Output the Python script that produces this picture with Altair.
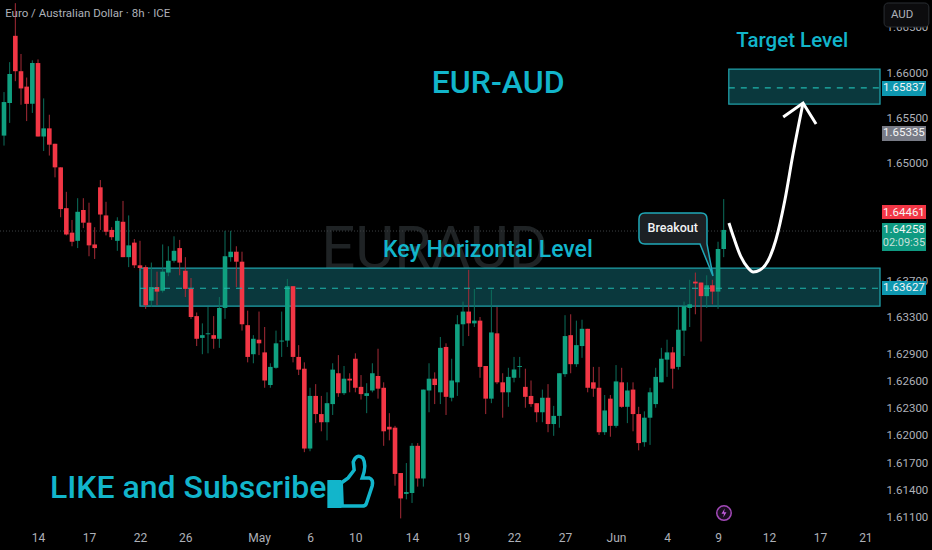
import altair as alt
import pandas as pd

opens = [1.6531,1.6567,1.6641,1.6602,1.6585,1.6566,1.6611,1.6530,1.6539,1.6522,1.6496,1.6451,1.6424,1.6415,1.6449,1.6435,1.6411,1.6474,1.6443,1.6427,
1.6415,1.6436,1.6397,1.6413,1.6388,1.6386,1.6349,1.6364,1.6360,1.6380,1.6393,1.6407,1.6382,1.6362,1.6332,1.6308,1.6312,1.6311,1.6307,1.6341,
1.6397,1.6403,1.6392,1.6322,1.6290,1.6306,1.6292,1.6256,1.6275,1.6304,1.6305,1.6365,1.6287,1.6274,1.6186,1.6244,1.6224,1.6215,1.6235,1.6269,
1.6247,1.6263,1.6285,1.6254,1.6244,1.6250,1.6266,1.6253,1.6210,1.6209,1.6159,1.6136,1.6137,1.6189,1.6153,1.6250,1.6263,1.6248,1.6298,1.6242,
1.6259,1.6323,1.6337,1.6324,1.6327,1.6277,1.6241,1.6313,1.6259,1.6248,1.6264,1.6276,1.6254,1.6244,1.6236,1.6226,1.6242,1.6213,1.6222,1.6268,
1.6311,1.6279,1.6299,1.6318,1.6259,1.6253,1.6204,1.6241,1.6211,1.6259,1.6232,1.6251,1.6224,1.6193,1.6220,1.6235,1.6259,1.6284,1.6292,1.6276,
1.6316,1.6341,1.6370,1.6369,1.6354,1.6366,1.6359,1.6406]
highs = [1.6579,1.6612,1.6677,1.6621,1.6595,1.6614,1.6615,1.6572,1.6554,1.6522,1.6496,1.6469,1.6438,1.6462,1.6462,1.6457,1.6430,1.6482,1.6458,1.6430,
1.6441,1.6459,1.6443,1.6417,1.6415,1.6388,1.6391,1.6381,1.6411,1.6409,1.6420,1.6416,1.6397,1.6374,1.6336,1.6324,1.6342,1.6332,1.6353,1.6426,
1.6426,1.6409,1.6403,1.6338,1.6311,1.6337,1.6320,1.6280,1.6316,1.6337,1.6373,1.6365,1.6300,1.6281,1.6253,1.6257,1.6244,1.6248,1.6280,1.6289,
1.6277,1.6269,1.6291,1.6267,1.6258,1.6280,1.6296,1.6259,1.6225,1.6211,1.6159,1.6170,1.6192,1.6192,1.6251,1.6280,1.6270,1.6309,1.6302,1.6285,
1.6333,1.6348,1.6383,1.6362,1.6331,1.6277,1.6361,1.6342,1.6269,1.6275,1.6287,1.6287,1.6274,1.6261,1.6236,1.6251,1.6257,1.6233,1.6269,1.6333,
1.6334,1.6327,1.6328,1.6318,1.6276,1.6276,1.6245,1.6245,1.6278,1.6275,1.6259,1.6259,1.6232,1.6227,1.6253,1.6275,1.6297,1.6306,1.6298,1.6342,
1.6348,1.6372,1.6380,1.6369,1.6377,1.6372,1.6414,1.6461]
lows = [1.6520,1.6545,1.6591,1.6565,1.6547,1.6556,1.6530,1.6514,1.6509,1.6485,1.6441,1.6421,1.6409,1.6407,1.6429,1.6398,1.6395,1.6427,1.6421,1.6416,
1.6404,1.6397,1.6386,1.6385,1.6382,1.6340,1.6342,1.6344,1.6358,1.6376,1.6391,1.6377,1.6353,1.6329,1.6299,1.6290,1.6291,1.6296,1.6297,1.6329,
1.6392,1.6364,1.6316,1.6281,1.6280,1.6289,1.6253,1.6253,1.6274,1.6287,1.6298,1.6281,1.6267,1.6182,1.6183,1.6214,1.6205,1.6195,1.6223,1.6243,
1.6245,1.6248,1.6248,1.6240,1.6225,1.6248,1.6241,1.6189,1.6195,1.6145,1.6109,1.6130,1.6126,1.6144,1.6144,1.6226,1.6235,1.6235,1.6223,1.6238,
1.6244,1.6299,1.6310,1.6320,1.6264,1.6224,1.6236,1.6257,1.6220,1.6232,1.6259,1.6264,1.6231,1.6232,1.6215,1.6215,1.6204,1.6200,1.6209,1.6265,
1.6269,1.6276,1.6286,1.6248,1.6243,1.6201,1.6201,1.6199,1.6209,1.6231,1.6214,1.6205,1.6184,1.6188,1.6190,1.6231,1.6259,1.6265,1.6252,1.6273,
1.6288,1.6320,1.6334,1.6304,1.6341,1.6345,1.6340,1.6397]
closes = [1.6568,1.6599,1.6602,1.6583,1.6566,1.6611,1.6530,1.6539,1.6521,1.6496,1.6450,1.6422,1.6414,1.6447,1.6435,1.6410,1.6407,1.6444,1.6425,1.6419,
1.6437,1.6397,1.6410,1.6388,1.6385,1.6344,1.6364,1.6359,1.6381,1.6393,1.6404,1.6391,1.6362,1.6331,1.6307,1.6311,1.6313,1.6307,1.6341,1.6398,
1.6403,1.6392,1.6323,1.6287,1.6307,1.6302,1.6261,1.6276,1.6302,1.6305,1.6365,1.6287,1.6273,1.6186,1.6244,1.6224,1.6215,1.6236,1.6273,1.6247,
1.6263,1.6261,1.6253,1.6246,1.6247,1.6269,1.6252,1.6205,1.6207,1.6158,1.6131,1.6138,1.6189,1.6153,1.6251,1.6263,1.6256,1.6297,1.6243,1.6261,
1.6323,1.6337,1.6324,1.6327,1.6276,1.6241,1.6314,1.6259,1.6248,1.6265,1.6273,1.6277,1.6243,1.6235,1.6226,1.6242,1.6213,1.6222,1.6269,1.6310,
1.6279,1.6300,1.6318,1.6253,1.6252,1.6204,1.6228,1.6211,1.6260,1.6232,1.6250,1.6224,1.6192,1.6220,1.6248,1.6265,1.6285,1.6292,1.6274,1.6317,
1.6343,1.6345,1.6368,1.6354,1.6366,1.6359,1.6406,1.6427]

x_tick_pos = [6,15,24,32,45,54,62,72,81,90,99,108,117,126,135,144,152]
x_tick_lab = ["14","17","22","26","May","6","10","14","19","22","27","Jun","4","9","12","17","21"]
y_ticks = [1.611,1.614,1.617,1.62,1.623,1.626,1.629,1.633,1.637,1.65,1.655,1.66,1.665]

zone_x = [24.0,154.58]
zone_key = [1.6385,1.6343,1.63627]
zone_target = [127.9,154.58,1.66044,1.65658,1.65837]
last_close = 1.64258

curve_x = [127.93,128.8,130.05,131.3,132.2,133.4,134.8,136.2,137.8,139.2,141.0]
curve_y = [1.64346,1.64181,1.63972,1.6385,1.63806,1.63828,1.63927,1.64159,1.646,1.65096,1.65669]
head_x = [137.5,141.0,143.3]
head_y = [1.65515,1.65669,1.65438]

TEAL = "#12b5cb"
GREEN = "#10a080"
RED = "#f23645"
GREY = "#aeb1b8"
FONT = "Roboto"
X0, X1 = -0.706, 154.58

xs = alt.Scale(domain=[X0,X1], nice=False, zero=False, padding=0)
ys = alt.Scale(domain=[1.61006,1.66805], nice=False, zero=False, padding=0)
x_axis = alt.Axis(values=x_tick_pos,labelExpr="{"+",".join(f"'{p}':'{l}'" for p,l in zip(x_tick_pos,x_tick_lab))+"}[datum.value]",
    domain=False,ticks=False,grid=False,title=None,labelColor=GREY,labelFont=FONT,labelFontSize=12,labelPadding=6,labelOverlap=False,labelFlush=False)
y_axis = alt.Axis(orient="right",values=y_ticks,format=".5f",
    domain=False,ticks=False,grid=False,title=None,labelColor=GREY,labelFont=FONT,labelFontSize=11.5,labelPadding=6,labelOverlap=False,labelFlush=False)
X = lambda f="x": alt.X(f"{f}:Q", scale=xs, axis=x_axis)
Y = lambda f="y": alt.Y(f"{f}:Q", scale=ys, axis=y_axis)

df = pd.DataFrame({"x":range(len(opens)),"o":opens,"h":highs,"l":lows,"c":closes})
df["body"] = [GREEN if c>=o else RED for o,c in zip(opens,closes)]
df["wick"] = ["#0c6f5c" if c>=o else "#a52b37" for o,c in zip(opens,closes)]

def rect(x1,x2,y1,y2,**kw):
    d = pd.DataFrame({"x":[x1],"x2":[x2],"y":[y1],"y2":[y2]})
    return alt.Chart(d).mark_rect(**kw).encode(X(),x2="x2:Q",y=Y(),y2="y2:Q")

def text(x,y,s,**kw):
    d = pd.DataFrame({"x":[x],"y":[y],"t":[s]})
    return alt.Chart(d).mark_text(**kw).encode(X(),Y(),text="t:N")

def shape(x,y,path,size,**kw):
    d = pd.DataFrame({"x":[x],"y":[y]})
    return alt.Chart(d).mark_point(shape=path,size=size,**kw).encode(X(),Y())

def hline(x1,x2,y,**kw):
    d = pd.DataFrame({"x":[x1],"x2":[x2],"y":[y]})
    return alt.Chart(d).mark_rule(**kw).encode(X(),x2="x2:Q",y=Y())

watermark = text(76.0,1.6405,"EURAUD",font="Roboto",fontSize=60,color="#1f2325",align="center",baseline="middle")

zone1 = rect(zone_x[0],zone_x[1],zone_key[0],zone_key[1],fill="#0e4e55",fillOpacity=0.72,stroke="#1f9fa8",strokeWidth=1.3)
zone2 = rect(zone_target[0],zone_target[1],zone_target[2],zone_target[3],fill="#0e4e55",fillOpacity=0.72,stroke="#1f9fa8",strokeWidth=1.3)

dotted = hline(X0,X1,last_close,color="#3c4144",strokeWidth=1,strokeDash=[1,2])

wicks = alt.Chart(df).mark_rule(strokeWidth=1,clip=True).encode(X(),y=Y("h"),y2="l:Q",color=alt.Color("wick:N",scale=None))
bodies = alt.Chart(df).mark_bar(size=4.6,clip=True).encode(X(),y=Y("o"),y2="c:Q",color=alt.Color("body:N",scale=None))

dash1 = hline(zone_x[0],zone_x[1],zone_key[2],color="#1fb5ad",strokeWidth=1.2,strokeDash=[6,6])
dash2 = hline(zone_target[0],zone_target[1],zone_target[4],color="#1fb5ad",strokeWidth=1.2,strokeDash=[6,6])

curve = alt.Chart(pd.DataFrame({"x":curve_x,"y":curve_y})).mark_line(color="white",strokeWidth=3,interpolate="monotone").encode(X(),Y())
head = alt.Chart(pd.DataFrame({"x":head_x,"y":head_y,"o":[0,1,2]})).mark_line(color="white",strokeWidth=3).encode(X(),Y(),order="o:Q")

callout = shape(118.05,1.64159,"M-.7 -.675 L.7 -.675 Q.85 -.675 .85 -.525 L.85 .1 L1 .9 L.675 .1 L-.7 .1 Q-.85 .1 -.85 -.05 L-.85 -.525 Q-.85 -.675 -.7 -.675 Z",6400,
    filled=True,fill="#1c2024",fillOpacity=1,stroke="#1fa8b8",strokeWidth=1.5,opacity=1)
callout_t = text(118.0,1.64291,"Breakout",font=FONT,fontSize=12.5,fontWeight=500,color="#f2f3f5")

titles = [
    text(0.2,1.6665,"Euro / Australian Dollar · 8h · ICE",font=FONT,fontSize=11.5,color=GREY,align="left"),
    text(87.2,1.65895,"EUR-AUD",font=FONT,fontSize=32,fontWeight=500,color=TEAL),
    text(139.1,1.66353,"Target Level",font=FONT,fontSize=20.5,fontWeight=500,color=TEAL),
    text(85.4,1.64050,"Key Horizontal Level",font=FONT,fontSize=23,fontWeight=500,color=TEAL),
    text(8.1,1.61425,"LIKE and Subscribe",font=FONT,fontSize=32,fontWeight=500,color=TEAL,align="left"),
]

thumb = shape(61.1,1.61480,"M-.3 0 L-.07 -.17 L.13 -.43 L.1 -.7 Q.2 -1 .42 -.83 Q.56 -.6 .4 -.17 L.63 -.17 Q.78 -.12 .73 .1 L.53 .7 Q.5 .77 .4 .77 L-.27 .77 Z",3600,
    filled=False,stroke=TEAL,strokeWidth=3.5,opacity=1)
cuff = shape(61.1,1.61480,"M-.73 -.07 L-.33 -.07 L-.33 .8 L-.73 .8 Z",3600,filled=True,fill=TEAL,stroke=TEAL,opacity=1)

bolt_ring = alt.Chart(pd.DataFrame({"x":[127.05],"y":[1.61149]})).mark_point(shape="circle",size=210,filled=True,fill="#1a0d20",stroke="#a349b8",strokeWidth=1.5,opacity=1).encode(X(),Y())
bolt = shape(127.05,1.61149,"M.15 -.9 L-.5 .15 L0 .15 L-.15 .9 L.5 -.15 L0 -.15 Z",100,filled=True,fill="#c45ee0",opacity=1)

tags = [
    rect(154.93,162.7,1.64545,1.64391,fill=RED),
    text(158.8,1.64461,"1.64461",font=FONT,fontSize=11.5,color="#f5f5f5"),
    rect(154.93,162.7,1.64346,1.64038,fill="#0f9a82"),
    text(158.8,1.64269,"1.64258",font=FONT,fontSize=11.5,color="#f0f5f4"),
    text(158.8,1.64126,"02:09:35",font=FONT,fontSize=11,color="#c8e0da"),
    rect(154.93,162.7,1.63707,1.63553,fill="#0e97b0"),
    text(158.8,1.63630,"1.63627",font=FONT,fontSize=11.5,color="#f5f5f5"),
    rect(154.93,162.7,1.65912,1.65747,fill="#0e97b0"),
    text(158.8,1.65830,"1.65837",font=FONT,fontSize=11.5,color="#f5f5f5"),
    rect(154.93,162.7,1.65416,1.65250,fill="#787b86"),
    text(158.8,1.65335,"1.65335",font=FONT,fontSize=11.5,color="#f5f5f5"),
    rect(155.3,163.2,1.66772,1.66507,fill="#0c0c0e",stroke="#2a2e33",strokeWidth=1,cornerRadius=4),
    text(156.5,1.66640,"AUD",font=FONT,fontSize=11.5,color=GREY,align="left"),
]

chart = alt.layer(
    watermark,zone1,zone2,dotted,wicks,bodies,dash1,dash2,*titles,curve,head,callout,callout_t,thumb,cuff,bolt_ring,bolt,*tags
).properties(
    width=880,height=526,background="#000000",
    padding={"left":0,"top":0,"right":52,"bottom":24},
    autosize=alt.AutoSizeParams(type="none"),
).configure_view(stroke=None)

chart.save("out.html", embed_options={"renderer": "svg", "actions": False, "defaultStyle": "body{margin:0;background:#000}"})
